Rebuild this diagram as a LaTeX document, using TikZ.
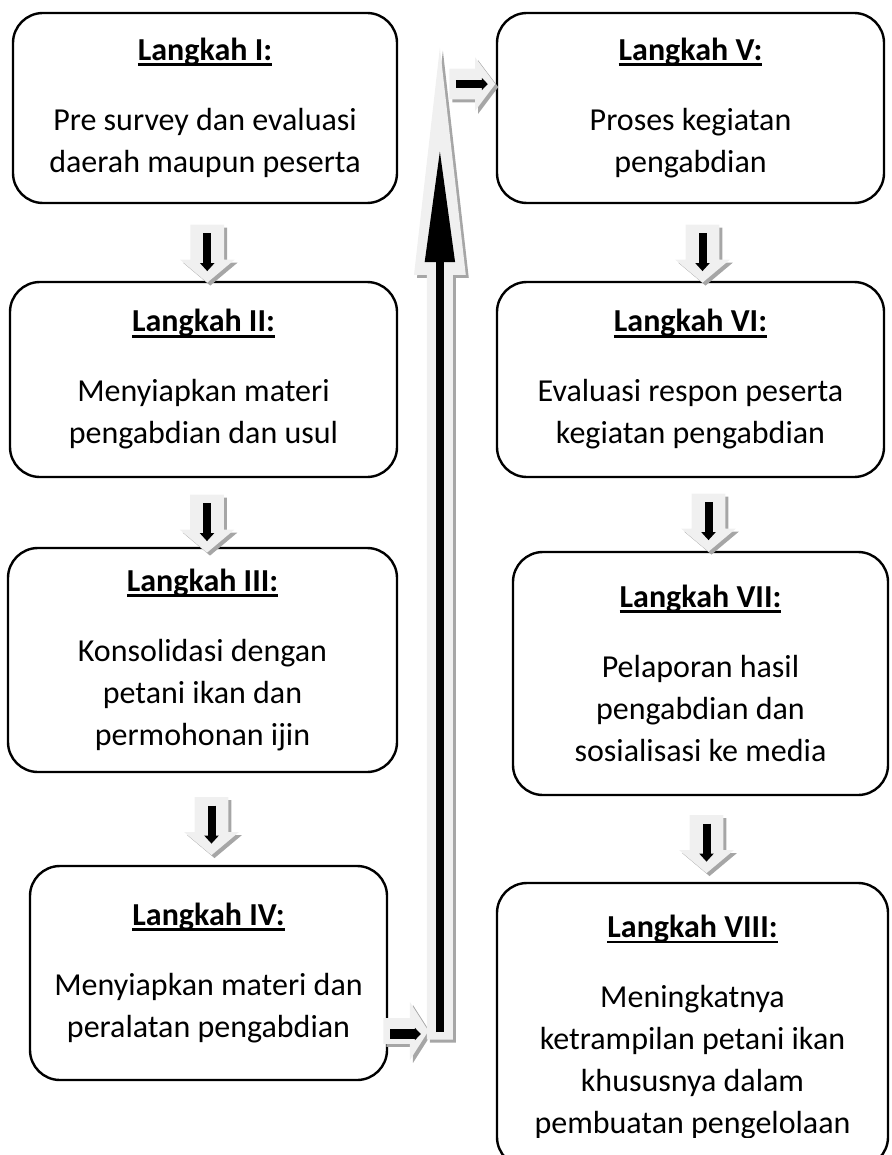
\documentclass[tikz,border=0pt]{standalone}
\usepackage{fontspec}
\setmainfont{Carlito}
\usepackage{tikz}
\usetikzlibrary{shapes.arrows,shadows,calc,positioning,arrows.meta}

\newcommand{\hdr}[1]{\setbox0\hbox{\bfseries #1}\leavevmode\rlap{\rule[-2.8pt]{\wd0}{1.4pt}}\box0}

\tikzset{
  stepbox/.style={draw, line width=1.2pt, rounded corners=15pt, align=center, inner sep=0pt,
    font=\fontsize{16}{21}\selectfont},
  blockarr/.style={single arrow, fill=black!6, draw=none,
    drop shadow={shadow xshift=1.5pt, shadow yshift=-1.5pt, fill=black!35, opacity=1}},
  downarr/.style={blockarr, shape border rotate=270, inner sep=8.25pt,
    single arrow head extend=5.25pt, single arrow tip angle=100, minimum height=29pt},
  blackbar/.style={line width=4pt, -{Triangle[length=4pt,width=7pt]}},
}

\begin{document}
\begin{tikzpicture}[x=0.5pt, y=-0.5pt]
\useasboundingbox (0,0) rectangle (891,1155);

% left column
\node[stepbox, minimum width=192pt, minimum height=95pt] (s1) at (205,108)
  {\hdr{Langkah I:}\\[14pt] Pre survey dan evaluasi\\ daerah maupun peserta};
\node[stepbox, minimum width=193.5pt, minimum height=97.5pt] (s2) at (203.5,379.5)
  {\hdr{Langkah II:}\\[14pt] Menyiapkan materi\\ pengabdian dan usul};
\node[stepbox, minimum width=194.5pt, minimum height=112pt] (s3) at (202.5,660)
  {\hdr{Langkah III:}\\[14pt] Konsolidasi dengan\\ petani ikan dan\\ permohonan ijin};
\node[stepbox, minimum width=178.5pt, minimum height=107pt] (s4) at (208.5,973)
  {\hdr{Langkah IV:}\\[14pt] Menyiapkan materi dan\\ peralatan pengabdian};

% right column
\node[stepbox, minimum width=193.5pt, minimum height=95pt] (s5) at (690.5,108)
  {\hdr{Langkah V:}\\[14pt] Proses kegiatan\\ pengabdian};
\node[stepbox, minimum width=193.5pt, minimum height=97.5pt] (s6) at (690.5,379.5)
  {\hdr{Langkah VI:}\\[14pt] Evaluasi respon peserta\\ kegiatan pengabdian};
\node[stepbox, minimum width=187.5pt, minimum height=121.5pt] (s7) at (700.5,673.5)
  {\hdr{Langkah VII:}\\[14pt] Pelaporan hasil\\ pengabdian dan\\ sosialisasi ke media};
\node[stepbox, minimum width=195.5pt, minimum height=142pt] (s8) at (692.5,1025) {};
\begin{scope}
  \clip (480,880) rectangle (891,1137);
  \node[align=center, inner sep=0pt, anchor=north, font=\fontsize{16}{21}\selectfont] (t8) at (692.5,915)
    {\hdr{Langkah VIII:}\\[14pt] Meningkatnya\\ ketrampilan petani ikan\\ khususnya dalam\\ pembuatan pengelolaan};
\end{scope}

% down arrows
\node[downarr] (a12) at ($(s1.south)!0.5!(s2.north)+(3,4)$) {};
\node[downarr] (a23) at ($(s2.south)!0.5!(s3.north)+(4,4)$) {};
\node[downarr] (a34) at ($(s3.south)!0.5!(s4.north)+(6,0)$) {};
\node[downarr] (a56) at ($(s5.south)!0.5!(s6.north)+(12,4)$) {};
\node[downarr] (a67) at ($(s6.south)!0.5!(s7.north)+(13,1)$) {};
\node[downarr] (a78) at ($(s7.south)!0.5!(s8.north)+(10,-2)$) {};
\foreach \a in {a12,a23,a34,a56,a67,a78}
  \draw[blackbar] ([yshift=-4.5pt]\a.tail) -- ([yshift=6pt]\a.tip);

% from step IV up to step V
\node[blockarr, anchor=tail, shape border rotate=0, inner sep=6.25pt, single arrow head extend=8pt,
  single arrow tip angle=115, minimum height=22.5pt] (r4) at (383,1031) {};
\node[blockarr, anchor=tail, shape border rotate=90, inner sep=6.25pt, single arrow head extend=6.5pt,
  single arrow tip angle=13, minimum height=496pt] (up) at ($(r4.tip)+(11,9)$) {};
\node[blockarr, anchor=tail, shape border rotate=0, inner sep=7.5pt, single arrow head extend=5.75pt,
  single arrow tip angle=106, minimum height=23pt] (r5) at ($(up.tip)+(9,40)$) {};
\draw[line width=5pt, -{Triangle[length=3pt,width=6pt]}] ([xshift=3.5pt,yshift=-1.5pt]r4.tail) -- ([xshift=-4pt,yshift=-1.5pt]r4.tip);
\draw[line width=4pt, -{Triangle[length=57pt,width=14pt]}] ([yshift=4pt]up.tail) -- ([yshift=-52pt]up.tip);
\draw[line width=4pt, -{Triangle[length=3pt,width=6pt]}] ([xshift=3.5pt]r5.tail) -- ([xshift=-4pt]r5.tip);
\end{tikzpicture}
\end{document}
